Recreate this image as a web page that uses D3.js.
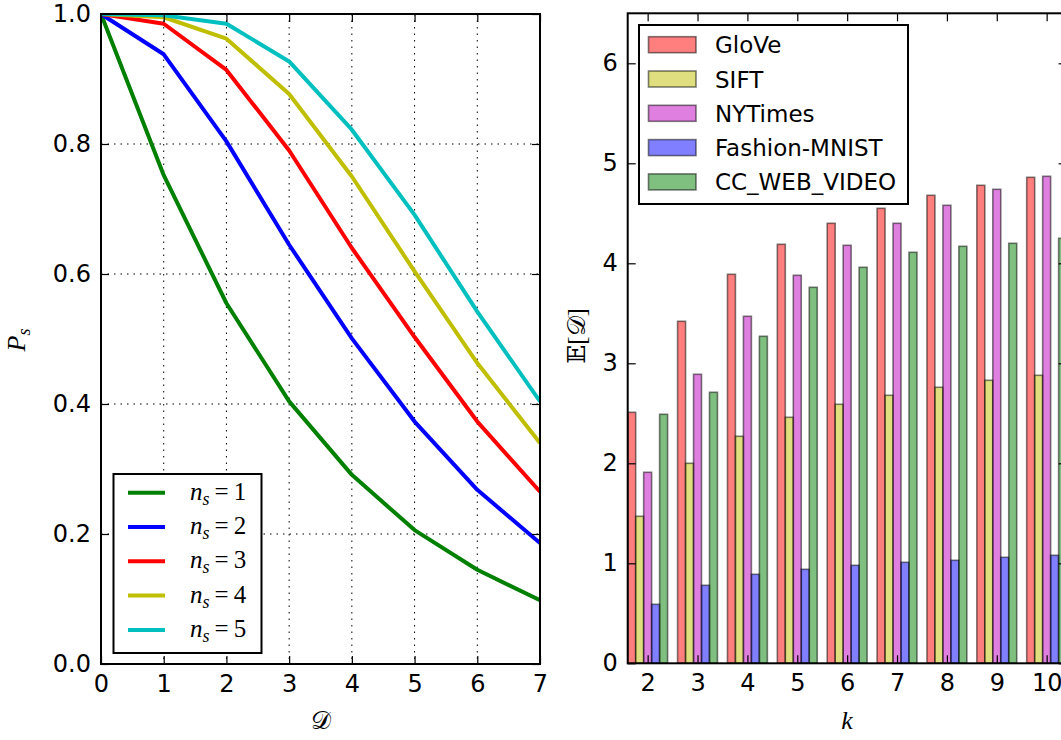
<!DOCTYPE html>
<html>
<head>
<meta charset="utf-8">
<script src="https://cdn.jsdelivr.net/npm/d3@7"></script>
<style>
  body { margin: 0; background: #fff; }
  text { font-family: "DejaVu Sans", sans-serif; }
  .math { font-family: "Liberation Serif", "DejaVu Serif", serif; }
</style>
</head>
<body>
<div id="chart"></div>
<script>
// ---- data: left panel (P_s vs D) ----
const dValues = [0, 1, 2, 3, 4, 5, 6, 7];
const nsLabels = ["1", "2", "3", "4", "5"];
const ps1 = [1.0, 0.752, 0.555, 0.404, 0.291, 0.206, 0.145, 0.098];
const ps2 = [1.0, 0.938, 0.804, 0.645, 0.501, 0.373, 0.268, 0.186];
const ps3 = [1.0, 0.985, 0.914, 0.790, 0.640, 0.503, 0.373, 0.265];
const ps4 = [1.0, 0.995, 0.962, 0.877, 0.750, 0.604, 0.463, 0.340];
const ps5 = [1.0, 0.998, 0.985, 0.927, 0.822, 0.691, 0.542, 0.404];
const lineColors = ["#008000", "#0000ff", "#ff0000", "#bfbf00", "#00bfbf"];

// ---- data: right panel (E[D] vs k) ----
const kValues = [2, 3, 4, 5, 6, 7, 8, 9, 10];
const datasets = ["GloVe", "SIFT", "NYTimes", "Fashion-MNIST", "CC_WEB_VIDEO"];
const glove = [2.51, 3.42, 3.89, 4.19, 4.40, 4.55, 4.68, 4.78, 4.86];
const sift = [1.47, 2.00, 2.27, 2.46, 2.59, 2.68, 2.76, 2.83, 2.88];
const nytimes = [1.91, 2.89, 3.47, 3.88, 4.18, 4.40, 4.58, 4.74, 4.87];
const fashion = [0.59, 0.78, 0.89, 0.94, 0.98, 1.01, 1.03, 1.06, 1.08];
const ccweb = [2.49, 2.71, 3.27, 3.76, 3.96, 4.11, 4.17, 4.20, 4.25];
const barColors = ["#ff0000", "#bfbf00", "#bf00bf", "#0000ff", "#008000"];

const leftTicksX = [0, 1, 2, 3, 4, 5, 6, 7];
const leftTicksY = [0, 0.2, 0.4, 0.6, 0.8, 1.0];
const rightTicksY = [0, 1, 2, 3, 4, 5, 6];

const W = 1061, H = 740;
const FONT = 24;
const TICK = 8;
const BAR_W = 0.16;

const svg = d3.select("#chart").append("svg")
  .attr("width", W).attr("height", H);
svg.append("rect").attr("width", W).attr("height", H).attr("fill", "#fff");

const defs = svg.append("defs");

// ================= left panel =================
const L = { left: 101, right: 540, top: 14, bottom: 664 };
const xL = d3.scaleLinear().domain([0, 7]).range([L.left, L.right]);
const yL = d3.scaleLinear().domain([0, 1]).range([L.bottom, L.top]);

defs.append("clipPath").attr("id", "clipL").append("rect")
  .attr("x", L.left).attr("y", L.top)
  .attr("width", L.right - L.left).attr("height", L.bottom - L.top);

// grid
const gridL = svg.append("g").attr("stroke", "#000").attr("stroke-width", 1)
  .attr("stroke-dasharray", "1.5,5");
gridL.selectAll(".gx").data(leftTicksX.slice(1, -1)).join("line")
  .attr("x1", d => xL(d)).attr("x2", d => xL(d))
  .attr("y1", L.top).attr("y2", L.bottom);
gridL.selectAll(".gy").data(leftTicksY.slice(1, -1)).join("line")
  .attr("y1", d => yL(d)).attr("y2", d => yL(d))
  .attr("x1", L.left).attr("x2", L.right);

// lines
const series = [ps1, ps2, ps3, ps4, ps5];
const line = d3.line().x((d, i) => xL(dValues[i])).y(d => yL(d));
svg.append("g").attr("clip-path", "url(#clipL)")
  .selectAll("path").data(series).join("path")
  .attr("d", d => line(d))
  .attr("fill", "none")
  .attr("stroke", (d, i) => lineColors[i])
  .attr("stroke-width", 4)
  .attr("stroke-linejoin", "round");

function styleAxis(g, hideText) {
  g.select(".domain").remove();
  g.selectAll(".tick line").attr("stroke", "#000").attr("stroke-width", 1.2);
  g.selectAll(".tick text").attr("font-size", FONT).attr("fill", "#000")
    .attr("font-family", "DejaVu Sans");
  if (hideText) g.selectAll(".tick text").remove();
}

svg.append("g").attr("transform", `translate(0,${L.bottom})`)
  .call(d3.axisBottom(xL).tickValues(leftTicksX).tickSize(-TICK).tickPadding(11)
    .tickFormat(d3.format("d")))
  .call(g => styleAxis(g));
svg.append("g").attr("transform", `translate(0,${L.top})`)
  .call(d3.axisTop(xL).tickValues(leftTicksX).tickSize(-TICK))
  .call(g => styleAxis(g, true));
svg.append("g").attr("transform", `translate(${L.left},0)`)
  .call(d3.axisLeft(yL).tickValues(leftTicksY).tickSize(-TICK).tickPadding(10)
    .tickFormat(d3.format(".1f")))
  .call(g => styleAxis(g));
svg.append("g").attr("transform", `translate(${L.right},0)`)
  .call(d3.axisRight(yL).tickValues(leftTicksY).tickSize(-TICK))
  .call(g => styleAxis(g, true));

svg.append("rect").attr("x", L.left).attr("y", L.top)
  .attr("width", L.right - L.left).attr("height", L.bottom - L.top)
  .attr("fill", "none").attr("stroke", "#000").attr("stroke-width", 2);

// legend left
const legL = svg.append("g");
legL.append("rect").attr("x", 113.5).attr("y", 474).attr("width", 148).attr("height", 179)
  .attr("fill", "#fff").attr("stroke", "#000").attr("stroke-width", 2);
nsLabels.forEach((lab, i) => {
  const cy = 492.7 + i * 34.3;
  legL.append("line").attr("x1", 128).attr("x2", 165).attr("y1", cy).attr("y2", cy)
    .attr("stroke", lineColors[i]).attr("stroke-width", 4);
  const t = legL.append("text").attr("class", "math").attr("x", 190).attr("y", cy + 7)
    .attr("font-size", 25).attr("fill", "#000");
  t.append("tspan").attr("font-style", "italic").text("n");
  t.append("tspan").attr("font-style", "italic").attr("font-size", 18).attr("dy", 5).text("s");
  t.append("tspan").attr("dy", -5).attr("dx", 5).text("=");
  t.append("tspan").attr("dx", 5).text(lab);
});

// axis labels left
svg.append("text").attr("class", "math").attr("x", xL(3.5)).attr("y", 729)
  .attr("text-anchor", "middle").attr("font-size", 25)
  .text("\u{1D49F}");
const pl = svg.append("text").attr("class", "math")
  .attr("transform", "translate(25,340) rotate(-90)")
  .attr("text-anchor", "middle").attr("font-size", 26);
pl.append("tspan").attr("font-style", "italic").text("P");
pl.append("tspan").attr("font-style", "italic").attr("font-size", 18).attr("dy", 5).text("s");

// ================= right panel =================
const R = { left: 627.7, right: 1066.6, top: 13.3, bottom: 663.3 };
const xR = d3.scaleLinear().domain([1.6, 10.4]).range([R.left, R.right]);
const yR = d3.scaleLinear().domain([0, 6.5]).range([R.bottom, R.top]);

defs.append("clipPath").attr("id", "clipR").append("rect")
  .attr("x", R.left).attr("y", R.top)
  .attr("width", R.right - R.left).attr("height", R.bottom - R.top);

const barSeries = [glove, sift, nytimes, fashion, ccweb];
const bw = xR(BAR_W) - xR(0);
const barG = svg.append("g").attr("clip-path", "url(#clipR)");
barSeries.forEach((vals, si) => {
  barG.append("g").selectAll("rect").data(vals).join("rect")
    .attr("x", (d, i) => xR(kValues[i] - 0.4 + si * BAR_W))
    .attr("width", bw)
    .attr("y", d => yR(d))
    .attr("height", d => yR(0) - yR(d))
    .attr("fill", barColors[si]).attr("fill-opacity", 0.5)
    .attr("stroke", "#000").attr("stroke-opacity", 0.5).attr("stroke-width", 1.6);
});

svg.append("g").attr("transform", `translate(0,${R.bottom})`)
  .call(d3.axisBottom(xR).tickValues(kValues).tickSize(-TICK).tickPadding(11)
    .tickFormat(d3.format("d")))
  .call(g => styleAxis(g));
svg.append("g").attr("transform", `translate(0,${R.top})`)
  .call(d3.axisTop(xR).tickValues(kValues).tickSize(-TICK))
  .call(g => styleAxis(g, true));
svg.append("g").attr("transform", `translate(${R.left},0)`)
  .call(d3.axisLeft(yR).tickValues(rightTicksY).tickSize(-TICK).tickPadding(10)
    .tickFormat(d3.format("d")))
  .call(g => styleAxis(g));
svg.append("g").attr("transform", `translate(${R.right},0)`)
  .call(d3.axisRight(yR).tickValues(rightTicksY).tickSize(-TICK))
  .call(g => styleAxis(g, true));

svg.append("rect").attr("x", R.left).attr("y", R.top)
  .attr("width", R.right - R.left).attr("height", R.bottom - R.top)
  .attr("fill", "none").attr("stroke", "#000").attr("stroke-width", 2);

// legend right
const legR = svg.append("g");
legR.append("rect").attr("x", 639).attr("y", 25).attr("width", 269).attr("height", 179)
  .attr("fill", "#fff").attr("stroke", "#000").attr("stroke-width", 2);
datasets.forEach((name, i) => {
  const cy = 44.7 + i * 34.3;
  legR.append("rect").attr("x", 648.5).attr("y", cy - 8).attr("width", 47.5).attr("height", 16)
    .attr("fill", barColors[i]).attr("fill-opacity", 0.5)
    .attr("stroke", "#000").attr("stroke-opacity", 0.5).attr("stroke-width", 1.6);
  legR.append("text").attr("x", 715).attr("y", cy + 8.5)
    .attr("font-size", 23).attr("fill", "#000").text(name);
});

// axis labels right
svg.append("text").attr("class", "math").attr("x", 847).attr("y", 729)
  .attr("text-anchor", "middle").attr("font-size", 26).attr("font-style", "italic")
  .text("k");
svg.append("text").attr("class", "math")
  .attr("transform", "translate(585,336) rotate(-90)")
  .attr("text-anchor", "middle").attr("font-size", 25)
  .text("\u{1D53C}[\u{1D49F}]");
</script>
</body>
</html>
